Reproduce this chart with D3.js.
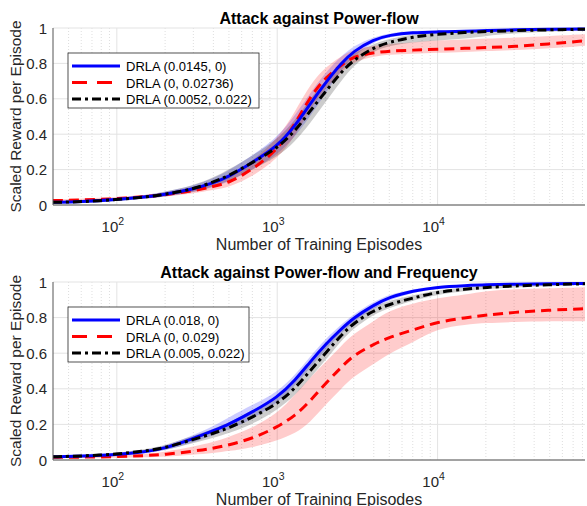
<!DOCTYPE html>
<html lang="en">
<head>
    <meta charset="UTF-8">
    <title>DRLA training curves</title>
    <script src="https://cdn.jsdelivr.net/npm/d3@7"></script>
    <style>
        body { margin: 0; background: #fff; }
        text { font-family: "Liberation Sans", Arial, sans-serif; }
    </style>
</head>
<body>
    <div id="chart"></div>

    <script>
        // training episodes (common x grid)
        var episodes = [40, 60, 100, 150, 200, 300, 400, 500, 700, 1000, 1300, 1600, 2000, 2500, 3000, 4000, 5000, 7000, 10000, 15000, 20000, 30000, 50000, 83000];

        // top panel: attack against power-flow
        var topBlue    = [.015, .018, .03, .045, .06, .09, .125, .16, .24, .33, .45, .57, .69, .80, .87, .935, .96, .975, .978, .982, .985, .99, .993, .995];
        var topBlueLo  = [.01, .012, .022, .035, .048, .072, .1, .13, .2, .28, .39, .5, .63, .76, .845, .92, .95, .965, .97, .975, .98, .985, .99, .99];
        var topBlueHi  = [.02, .024, .038, .055, .075, .11, .15, .195, .28, .38, .51, .63, .75, .84, .9, .95, .97, .985, .985, .99, .99, .995, .997, 1];
        var topRed     = [.025, .028, .035, .047, .058, .08, .105, .125, .2, .31, .46, .61, .72, .79, .84, .86, .87, .875, .88, .885, .89, .895, .91, .928];
        var topRedLo   = [.018, .02, .028, .038, .047, .065, .085, .1, .16, .26, .39, .54, .66, .75, .81, .84, .85, .855, .86, .865, .87, .875, .885, .9];
        var topRedHi   = [.032, .036, .044, .056, .07, .1, .13, .155, .25, .37, .53, .68, .78, .84, .88, .9, .91, .92, .93, .935, .94, .945, .955, .965];
        var topBlack   = [.015, .018, .03, .045, .06, .09, .13, .165, .24, .32, .42, .53, .64, .75, .82, .89, .92, .95, .965, .975, .98, .985, .99, .993];
        var topBlackLo = [.01, .012, .022, .035, .048, .072, .105, .135, .2, .27, .36, .46, .58, .7, .79, .87, .9, .92, .93, .94, .955, .97, .98, .985];
        var topBlackHi = [.02, .024, .038, .055, .075, .11, .155, .2, .28, .37, .48, .6, .7, .8, .86, .91, .94, .965, .975, .985, .99, .99, .995, .997];

        // bottom panel: attack against power-flow and frequency
        var botBlue    = [.018, .022, .03, .045, .065, .12, .165, .2, .27, .35, .45, .55, .65, .735, .8, .87, .915, .95, .972, .98, .985, .988, .99, .992];
        var botBlueLo  = [.013, .016, .024, .036, .052, .1, .14, .17, .23, .32, .42, .52, .62, .71, .78, .85, .9, .94, .965, .975, .98, .983, .985, .988];
        var botBlueHi  = [.023, .028, .036, .054, .078, .14, .19, .24, .31, .38, .48, .58, .68, .76, .82, .89, .93, .96, .98, .985, .99, .993, .995, .997];
        var botRed     = [.015, .016, .018, .025, .03, .05, .065, .085, .12, .185, .25, .33, .43, .52, .59, .65, .69, .73, .776, .80, .814, .83, .842, .85];
        var botRedLo   = [.01, .011, .012, .015, .018, .03, .04, .05, .07, .11, .15, .21, .31, .4, .47, .54, .6, .66, .74, .76, .77, .775, .78, .78];
        var botRedHi   = [.02, .022, .026, .035, .045, .075, .1, .13, .18, .26, .37, .46, .55, .64, .71, .78, .84, .88, .91, .93, .95, .96, .965, .97];
        var botBlack   = [.018, .022, .033, .05, .068, .115, .15, .18, .24, .315, .405, .5, .6, .7, .77, .84, .875, .91, .944, .96, .97, .978, .985, .99];
        var botBlackLo = [.013, .016, .026, .04, .055, .095, .125, .15, .2, .28, .365, .46, .56, .67, .74, .82, .855, .895, .93, .95, .96, .97, .978, .985];
        var botBlackHi = [.023, .028, .04, .06, .082, .135, .175, .21, .28, .35, .445, .54, .64, .73, .8, .86, .895, .925, .955, .97, .98, .985, .99, .995];

        var topLabels = ["DRLA (0.0145, 0)", "DRLA (0, 0.02736)", "DRLA (0.0052, 0.022)"];
        var botLabels = ["DRLA (0.018, 0)", "DRLA (0, 0.029)", "DRLA (0.005, 0.022)"];

        var yTicks = [0, 0.2, 0.4, 0.6, 0.8, 1];
        var xTicks = [100, 1000, 10000];

        var width = 587, height = 506;

        var svg = d3.select("#chart").append("svg")
            .attr("width", width)
            .attr("height", height);

        var styles = [
            { color: "#0000ff", band: "rgba(0,0,255,0.2)", dash: null },
            { color: "#ff0000", band: "rgba(255,0,0,0.2)", dash: "10,6" },
            { color: "#000000", band: "rgba(0,0,0,0.2)", dash: "9,4,3,4" }
        ];

        function drawPanel(id, top, bottom, title, labels, series, legendW) {
            var x = d3.scaleLog().domain([40, 83000]).range([53, 585]);
            var y = d3.scaleLinear().domain([0, 1]).range([bottom, top]);

            var g = svg.append("g");

            g.append("clipPath").attr("id", "clip" + id)
                .append("rect")
                .attr("x", 53).attr("y", top - 2)
                .attr("width", 532).attr("height", bottom - top + 2);

            // minor x grid
            var minor = [];
            [10, 100, 1000, 10000].forEach(function (d) {
                for (var k = 2; k <= 9; k++) {
                    var v = d * k;
                    if (v > 40 && v < 83000) minor.push(v);
                }
            });
            g.selectAll(".minor").data(minor).enter().append("line")
                .attr("x1", d => x(d)).attr("x2", d => x(d))
                .attr("y1", top).attr("y2", bottom)
                .attr("stroke", "#d6d6d6")
                .attr("stroke-width", 0.8)
                .attr("stroke-dasharray", "1,2");

            // major grid
            g.selectAll(".gx").data(xTicks).enter().append("line")
                .attr("x1", d => x(d)).attr("x2", d => x(d))
                .attr("y1", top).attr("y2", bottom)
                .attr("stroke", "#e3e3e3");
            g.selectAll(".gy").data(yTicks).enter().append("line")
                .attr("x1", 53).attr("x2", 585)
                .attr("y1", d => y(d)).attr("y2", d => y(d))
                .attr("stroke", "#e3e3e3");

            var plot = g.append("g").attr("clip-path", "url(#clip" + id + ")");

            var pts = function (arr) { return episodes.map((e, i) => [e, arr[i]]); };

            var area = d3.area()
                .x(d => x(d[0]))
                .y0(d => y(d[1]))
                .y1(d => y(d[2]))
                .curve(d3.curveBasis);

            var line = d3.line()
                .x(d => x(d[0]))
                .y(d => y(d[1]))
                .curve(d3.curveBasis);

            series.forEach(function (s, i) {
                plot.append("path")
                    .datum(episodes.map((e, j) => [e, s.lo[j], s.hi[j]]))
                    .attr("fill", styles[i].band)
                    .attr("d", area);
            });

            // draw red first, then blue, then black on top
            [1, 0, 2].forEach(function (i) {
                plot.append("path")
                    .datum(pts(series[i].mean))
                    .attr("fill", "none")
                    .attr("stroke", styles[i].color)
                    .attr("stroke-width", 3)
                    .attr("stroke-dasharray", styles[i].dash)
                    .attr("d", line);
            });

            // axes (left and bottom only)
            g.append("line")
                .attr("x1", 53).attr("x2", 53).attr("y1", top).attr("y2", bottom)
                .attr("stroke", "#555");
            g.append("line")
                .attr("x1", 53).attr("x2", 585).attr("y1", bottom).attr("y2", bottom)
                .attr("stroke", "#555");

            g.selectAll(".yt").data(yTicks).enter().append("text")
                .attr("x", 47)
                .attr("y", d => y(d) + 5.5)
                .attr("text-anchor", "end")
                .attr("font-size", 15)
                .attr("fill", "#262626")
                .text(d => d3.format("~g")(d));

            var xt = g.selectAll(".xt").data(xTicks).enter().append("text")
                .attr("x", d => x(d) - 4)
                .attr("y", bottom + 27)
                .attr("text-anchor", "middle")
                .attr("font-size", 15)
                .attr("fill", "#262626");
            xt.append("tspan").text("10");
            xt.append("tspan")
                .attr("dy", -7)
                .attr("font-size", 10.5)
                .text(d => Math.round(Math.log10(d)));

            g.append("text")
                .attr("x", 319)
                .attr("y", bottom + 45)
                .attr("text-anchor", "middle")
                .attr("font-size", 16)
                .attr("fill", "#262626")
                .text("Number of Training Episodes");

            g.append("text")
                .attr("transform", "translate(21," + ((top + bottom) / 2 + 0) + ") rotate(-90)")
                .attr("text-anchor", "middle")
                .attr("font-size", 15.5)
                .attr("fill", "#262626")
                .text("Scaled Reward per Episode");

            g.append("text")
                .attr("x", 319)
                .attr("y", top - 4.5)
                .attr("text-anchor", "middle")
                .attr("font-size", 16)
                .attr("font-weight", "bold")
                .attr("fill", "#000")
                .text(title);

            // legend
            var lg = g.append("g").attr("transform", "translate(68," + (top + 25) + ")");
            lg.append("rect")
                .attr("width", legendW).attr("height", 55)
                .attr("fill", "#fff")
                .attr("stroke", "#262626")
                .attr("stroke-width", 0.8);
            labels.forEach(function (lab, i) {
                var ly = 13 + i * 16.5;
                lg.append("line")
                    .attr("x1", 4).attr("x2", 52)
                    .attr("y1", ly).attr("y2", ly)
                    .attr("stroke", styles[i].color)
                    .attr("stroke-width", 3)
                    .attr("stroke-dasharray", i == 1 ? "15,10" : styles[i].dash);
                lg.append("text")
                    .attr("x", 58)
                    .attr("y", ly + 5)
                    .attr("font-size", 13)
                    .attr("fill", "#000")
                    .text(lab);
            });
        }

        drawPanel("top", 28, 205, "Attack against Power-flow", topLabels, [
            { mean: topBlue, lo: topBlueLo, hi: topBlueHi },
            { mean: topRed, lo: topRedLo, hi: topRedHi },
            { mean: topBlack, lo: topBlackLo, hi: topBlackHi }
        ], 191);

        drawPanel("bot", 282, 460, "Attack against Power-flow and Frequency", botLabels, [
            { mean: botBlue, lo: botBlueLo, hi: botBlueHi },
            { mean: botRed, lo: botRedLo, hi: botRedHi },
            { mean: botBlack, lo: botBlackLo, hi: botBlackHi }
        ], 181);
    </script>
</body>
</html>
